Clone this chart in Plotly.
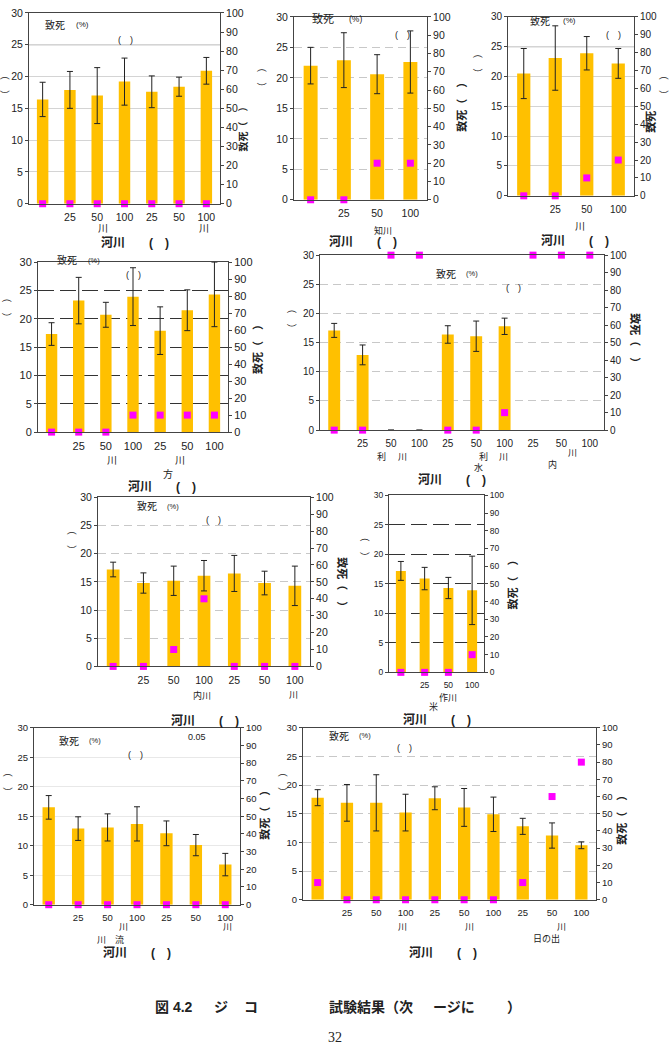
import plotly.graph_objects as go

W, H = 671, 1059
FONT = "Liberation Sans, Noto Sans CJK JP, Arial, sans-serif"
BAR_COLOR = "#FFC000"
MARK_COLOR = "#FF00FF"

# ---------------- data ----------------
p1_labels = ["", "25", "50", "100", "25", "50", "100"]
p1_mean = [16.4, 17.9, 17.0, 19.2, 17.6, 18.4, 20.9]
p1_err = [2.7, 2.9, 4.4, 3.7, 2.5, 1.5, 2.1]
p1_mort = [0, 0, 0, 0, 0, 0, 0]

p2_labels = ["", "25", "50", "100"]
p2_mean = [22.0, 22.9, 20.6, 22.6]
p2_err = [3.0, 4.5, 3.2, 5.1]
p2_mort = [0, 0, 20, 20]

p3_labels = ["", "25", "50", "100"]
p3_mean = [20.5, 23.1, 23.9, 22.2]
p3_err = [4.2, 5.4, 2.8, 2.5]
p3_mort = [0, 0, 10, 20]

p4_labels = ["", "25", "50", "100", "25", "50", "100"]
p4_mean = [17.3, 23.2, 20.7, 23.9, 17.9, 21.5, 24.3]
p4_err = [2.0, 4.1, 2.2, 5.1, 4.2, 3.6, 5.7]
p4_mort = [0, 0, 0, 10, 10, 10, 10]

p5_labels = ["", "25", "50", "100", "25", "50", "100", "25", "50", "100"]
p5_mean = [17.1, 12.9, 0, 0, 16.4, 16.1, 17.8, None, None, None]
p5_err = [1.2, 1.7, 0, 0, 1.5, 2.6, 1.4, 0, 0, 0]
p5_mort = [0, 0, 100, 100, 0, 0, 10, 100, 100, 100]

p6_labels = ["", "25", "50", "100", "25", "50", "100"]
p6_mean = [17.2, 14.8, 15.2, 16.1, 16.5, 14.8, 14.3]
p6_err = [1.3, 1.8, 2.6, 2.7, 3.2, 2.1, 3.5]
p6_mort = [0, 0, 10, 40, 0, 0, 0]

p7_labels = ["", "25", "50", "100"]
p7_mean = [17.2, 15.9, 14.3, 13.9]
p7_err = [1.6, 1.9, 1.8, 5.8]
p7_mort = [0, 0, 0, 10]

p8_labels = ["", "25", "50", "100", "25", "50", "100"]
p8_mean = [16.5, 12.9, 13.1, 13.7, 12.1, 10.1, 6.8]
p8_err = [2.0, 2.0, 2.3, 2.9, 2.1, 1.8, 1.9]
p8_mort = [0, 0, 0, 0, 0, 0, 0]

p9_labels = ["", "25", "50", "100", "25", "50", "100", "25", "50", "100"]
p9_mean = [17.8, 16.9, 16.9, 15.2, 17.7, 16.1, 14.9, 12.8, 11.2, 9.5]
p9_err = [1.4, 3.2, 4.9, 3.2, 2.0, 3.3, 3.0, 1.4, 2.2, 0.6]
p9_mort = [10, 0, 0, 0, 0, 0, 0, 10, 60, 80]

left_ticks = [0, 5, 10, 15, 20, 25, 30]
right_ticks = [0, 10, 20, 30, 40, 50, 60, 70, 80, 90, 100]

# ---------------- panel layout (pixel boxes) ----------------
LIGHT_DASH = dict(color="#c8c8c8", dash="8px,5px")
DARK_DASH = dict(color="#333333", dash="16px,6px")
LIGHT_SOLID = dict(color="#d4d4d4", dash="solid")
FAINT_SOLID = dict(color="#e8e8e8", dash="solid")

panels = [
    dict(box=(29, 220, 7, 200), labels=p1_labels, mean=p1_mean, err=p1_err, mort=p1_mort, grid=LIGHT_SOLID, tf=10.5, dark25=True),
    dict(box=(294, 427, 11, 196), labels=p2_labels, mean=p2_mean, err=p2_err, mort=p2_mort, grid=LIGHT_DASH, tf=10.5, dark25=False),
    dict(box=(508, 634, 11, 192), labels=p3_labels, mean=p3_mean, err=p3_err, mort=p3_mort, grid=LIGHT_SOLID, tf=10, dark25=True),
    dict(box=(38, 228, 259, 431), labels=p4_labels, mean=p4_mean, err=p4_err, mort=p4_mort, grid=DARK_DASH, tf=11, dark25=False),
    dict(box=(320, 604, 252, 429), labels=p5_labels, mean=p5_mean, err=p5_err, mort=p5_mort, grid=LIGHT_DASH, tf=10, dark25=False),
    dict(box=(98, 310, 497, 668), labels=p6_labels, mean=p6_mean, err=p6_err, mort=p6_mort, grid=LIGHT_DASH, tf=10.5, dark25=False),
    dict(box=(389, 484, 495, 674), labels=p7_labels, mean=p7_mean, err=p7_err, mort=p7_mort, grid=DARK_DASH, tf=8.5, dark25=False),
    dict(box=(34, 240, 730, 909), labels=p8_labels, mean=p8_mean, err=p8_err, mort=p8_mort, grid=FAINT_SOLID, tf=9.5, dark25=False),
    dict(box=(303, 596, 730, 904), labels=p9_labels, mean=p9_mean, err=p9_err, mort=p9_mort, grid=LIGHT_DASH, tf=9.5, dark25=False),
]


def fx(p):
    return p / W


def fy(p):
    return 1 - p / H


fig = go.Figure()
layout = dict(
    width=W, height=H, margin=dict(l=0, r=0, t=0, b=0),
    paper_bgcolor="white", plot_bgcolor="white", showlegend=False,
    font=dict(family=FONT, size=10, color="#222"),
)
shapes = []
AX = "#444444"

for k, p in enumerate(panels, start=1):
    x0, x1, yt, yb = p["box"]
    n = len(p["labels"])
    xname = "x" if k == 1 else f"x{k}"
    yl = 2 * k - 1
    yr = 2 * k
    ylname = "y" if yl == 1 else f"y{yl}"
    yrname = f"y{yr}"
    xkey = "xaxis" if k == 1 else f"xaxis{k}"
    ylkey = "yaxis" if yl == 1 else f"yaxis{yl}"
    yrkey = f"yaxis{yr}"
    tfont = dict(family=FONT, size=p["tf"], color="#222")

    layout[xkey] = dict(
        domain=[fx(x0), fx(x1)], range=[-0.5, n - 0.5],
        tickmode="array", tickvals=list(range(n)), ticktext=p["labels"],
        showline=True, mirror=True, linecolor=AX, linewidth=1,
        ticks="", ticklabelstandoff=4, showgrid=False, zeroline=False, anchor=ylname,
        tickfont=tfont, fixedrange=True,
    )
    layout[ylkey] = dict(
        domain=[fy(yb), fy(yt)], range=[0, 30],
        tickmode="array", tickvals=left_ticks,
        showline=True, linecolor=AX, linewidth=1,
        ticks="outside", ticklen=3, tickcolor=AX,
        showgrid=True, gridcolor=p["grid"]["color"], griddash=p["grid"]["dash"], gridwidth=1,
        zeroline=False, anchor=xname, tickfont=tfont, fixedrange=True,
    )
    layout[yrkey] = dict(
        overlaying=ylname, side="right", range=[0, 100],
        tickmode="array", tickvals=right_ticks,
        showline=True, linecolor=AX, linewidth=1,
        ticks="outside", ticklen=3, tickcolor=AX,
        showgrid=False, zeroline=False, anchor=xname, tickfont=tfont, fixedrange=True,
    )

    fig.add_trace(go.Bar(
        x=list(range(n)), y=p["mean"], width=0.42,
        marker=dict(color=BAR_COLOR, line=dict(width=0)),
        error_y=dict(type="data", array=p["err"], color="#222", thickness=1, width=3),
        xaxis=xname, yaxis=ylname, hoverinfo="skip",
    ))
    fig.add_trace(go.Scatter(
        x=list(range(n)), y=p["mort"], mode="markers",
        marker=dict(symbol="square", size=7, color=MARK_COLOR, line=dict(width=0)),
        xaxis=xname, yaxis=yrname, cliponaxis=False, hoverinfo="skip",
    ))
    if p["dark25"]:
        shapes.append(dict(type="line", xref=f"{xname} domain", yref=ylname,
                           x0=0, x1=1, y0=25, y1=25, layer="below",
                           line=dict(color="#8a8a8a", width=1)))

layout["shapes"] = shapes

# ---------------- annotations ----------------
anns = []


def ann(text, x, y, size=10, bold=False, angle=0, anchor="center", family=FONT, color="#222"):
    if bold:
        text = f"<b>{text}</b>"
    anns.append(dict(text=text, x=fx(x), y=fy(y), xref="paper", yref="paper",
                     xanchor=anchor, yanchor="middle", showarrow=False,
                     textangle=angle, font=dict(family=family, size=size, color=color)))


RT = "致死（　）"
LT = "（　）"
BT = "河川　　(　)"

# panel 1
ann("致死", 43, 19, 10, anchor="left"); ann("(%)", 74, 19, 8, anchor="left")
ann("(　)", 125, 34, 9)
ann(LT, 5, 80, 10, angle=-90)
ann(RT, 244, 122, 10, bold=True, angle=-90)
ann("川", 103, 225, 10); ann("川", 204, 225, 10)
ann(BT, 135, 240, 12, bold=True)

# panel 2
ann("致死", 310, 13, 11, anchor="left"); ann("(%)", 347, 13, 8.5, anchor="left")
ann("(　)", 402, 29, 9)
ann(LT, 262, 72, 10, angle=-90)
ann(RT, 462, 100, 11, bold=True, angle=-90)
ann("知川", 383, 227, 9)
ann(BT, 363, 239, 12, bold=True)

# panel 3
ann("致死", 528, 15, 10, anchor="left"); ann("(%)", 561, 15, 8, anchor="left")
ann("(　)", 613, 29, 9)
ann(LT, 478, 58, 10, angle=-90)
ann("致死", 651, 117, 11, bold=True, angle=-90)
ann(LT, 664, 80, 10, angle=-90)
ann("川", 580, 223, 10)
ann(BT, 575, 238, 12, bold=True)

# panel 4
ann("致死", 55, 257, 10, anchor="left"); ann("(%)", 86, 257, 7.5, anchor="left")
ann("(　)", 133, 272, 9)
ann(LT, 8, 305, 10, angle=-90)
ann(RT, 257, 345, 11, bold=True, angle=-90)
ann("川", 112, 460, 10); ann("川", 180, 460, 10); ann("方", 168, 473, 10)
ann(BT, 162, 487, 12, bold=True)

# panel 5
ann("致死", 434, 271, 10, anchor="left"); ann("(%)", 464, 271, 7.5, anchor="left")
ann("(　)", 513, 285, 9)
ann(LT, 292, 316, 10, angle=-90)
ann(RT, 636, 338, 11, bold=True, angle=90)
ann("利", 382, 456, 9); ann("川", 402, 456, 9)
ann("利", 483, 456, 9); ann("川", 503, 456, 9); ann("水", 478, 467, 9)
ann("川", 572, 452, 9); ann("内", 552, 464, 9)
ann(BT, 452, 479, 12, bold=True)

# panel 6
ann("致死", 135, 506, 10, anchor="left"); ann("(%)", 165, 506, 7.5, anchor="left")
ann("(　)", 213, 520, 9)
ann(LT, 73, 540, 10, angle=-90)
ann(RT, 343, 586, 11, bold=True, angle=90)
ann("内川", 202, 697, 9); ann("川", 293, 697, 9)
ann(BT, 205, 723, 12, bold=True)
ann("0.05", 197, 739, 9)

# panel 7
ann(LT, 366, 547, 10, angle=-90)
ann(RT, 512, 583, 11, bold=True, angle=-90)
ann("作川", 448, 699, 9); ann("米", 433, 709, 9)
ann(BT, 437, 722, 12, bold=True)

# panel 8
ann("致死", 57, 743, 10, anchor="left"); ann("(%)", 87, 743, 7.5, anchor="left")
ann("(　)", 135, 758, 9)
ann(LT, 8, 785, 10, angle=-90)
ann(RT, 265, 816, 11, bold=True, angle=-90)
ann("川", 123, 932, 9); ann("川　流", 111, 944, 9); ann("川", 227, 932, 9)
ann(BT, 137, 958, 12, bold=True)

# panel 9
ann("致死", 327, 738, 10, anchor="left"); ann("(%)", 357, 738, 7.5, anchor="left")
ann("(　)", 405, 751, 9)
ann(LT, 283, 785, 10, angle=-90)
ann(RT, 622, 821, 11, bold=True, angle=-90)
ann("川", 402, 932, 9); ann("川", 469, 932, 9); ann("川", 561, 932, 9)
ann("日の出", 546, 943, 9)
ann(BT, 443, 958, 12, bold=True)

# caption and page number
ann("図 4.2", 153, 1012, 14, bold=True, anchor="left")
ann("ジ", 212, 1012, 14, bold=True, anchor="left")
ann("コ", 242, 1012, 14, bold=True, anchor="left")
ann("試験結果（次", 327, 1012, 14, bold=True, anchor="left")
ann("ージに", 431, 1012, 14, bold=True, anchor="left")
ann("）", 505, 1012, 14, bold=True, anchor="left")
ann("32", 335, 1043, 14, family="Liberation Serif, serif")

layout["annotations"] = anns
fig.update_layout(**layout)
fig.write_html("out.html")
